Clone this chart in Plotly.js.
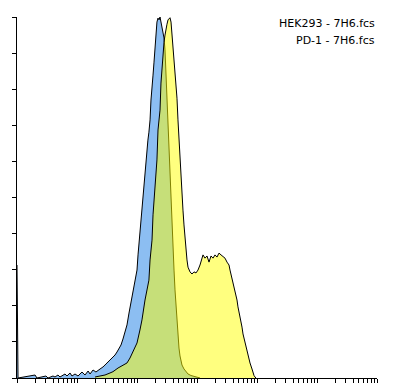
<!DOCTYPE html>
<html>
<head>
<meta charset="utf-8">
<script src="https://cdn.plot.ly/plotly-3.0.1.min.js"></script>
<style>html,body{margin:0;padding:0;background:#fff;}#chart{width:393px;height:389px;}</style>
</head>
<body>
<div id="chart"></div>
<script>
// Legend labels
const seriesNames = ["HEK293 - 7H6.fcs", "PD-1 - 7H6.fcs"];

// HEK293 histogram (fluorescence intensity, % of max)
const hekX = [1, 1.04, 2.0, 2.15, 3.04, 3.29, 3.98, 4.30, 4.82, 5.21,
  6.31, 6.81, 7.64, 8.25, 9.26, 10.4, 12.1, 13.6, 15.3, 16.5,
  18.5, 20.7, 24.2, 27.1, 30.4, 34.2, 38.3, 43.0, 46.4, 50.1,
  54.1, 58.4, 63.1, 68.1, 73.6, 79.4, 85.8, 92.6, 100, 104,
  108, 112, 117, 121, 126, 131, 136, 141, 147, 152,
  158, 165, 171, 178, 185, 192, 200, 207, 215, 224,
  233, 242, 251, 261, 271, 282, 293, 304, 316, 329,
  341, 355, 369, 383, 398, 414, 430, 447, 464, 482,
  501, 521, 541, 562, 607, 656, 708, 794, 891, 1000, 1122];
const hekY = [31.3, 0, 0.83, 0, 0.55, 0, 0.55, 0.28, 0.83, 0.28,
  1.11, 0.55, 1.39, 0.55, 1.11, 0.55, 1.66, 0.83, 1.94, 1.11,
  2.22, 1.66, 2.49, 3.05, 3.88, 4.71, 5.54, 6.37, 7.20, 8.03,
  9.14, 10.8, 12.5, 14.7, 18.0, 21.1, 23.8, 26.3, 29.9, 34.1,
  37.4, 40.7, 43.2, 47.1, 50.7, 54.3, 57.6, 60.4, 63.2, 65.9,
  68.1, 71.5, 77.0, 82.0, 83.9, 87.5, 92.2, 95.6, 98.6, 99.7,
  99.2, 100, 98.6, 97.2, 95.8, 94.2, 90.9, 84.0, 77.0, 68.7,
  61.8, 54.8, 47.9, 41.6, 35.5, 29.9, 24.4, 19.4, 15.0, 11.1,
  8.3, 6.1, 4.7, 3.6, 2.5, 1.66, 1.11, 0.69, 0.42, 0.14, 0];

// PD-1 histogram (fluorescence intensity, % of max)
const pd1X = [20.0, 24.2, 29.3, 35.5, 39.8, 48.3, 56.2, 68.1, 76.4, 85.8,
  100, 112, 121, 136, 147, 158, 165, 178, 185, 200,
  215, 224, 242, 251, 261, 271, 282, 293, 304, 316,
  329, 341, 355, 369, 383, 398, 414, 430, 447, 464,
  482, 501, 521, 541, 562, 584, 607, 631, 656, 681,
  708, 736, 764, 825, 891, 962, 1038, 1122, 1211, 1259,
  1359, 1468, 1585, 1711, 1848, 1995, 2154, 2326, 2512, 2712,
  2929, 3162, 3415, 3548, 3831, 3981, 4299, 4642, 4819, 5204,
  5623, 5843, 6310, 6813, 7079, 7645, 8254, 8577, 8913, 9261, 9624];
const pd1Y = [0.28, 0.55, 0.83, 1.39, 1.75, 2.77, 3.46, 4.16, 5.54, 7.20,
  9.70, 13.3, 16.1, 21.6, 24.4, 27.1, 32.7, 38.2, 45.2, 53.5,
  60.4, 68.7, 74.2, 81.7, 86.0, 90.0, 93.0, 95.0, 97.0, 98.0,
  99.2, 99.6, 99.8, 98.6, 95.0, 90.9, 88.1, 86.1, 81.2, 77.5,
  71.5, 65.9, 60.4, 54.8, 50.7, 46.5, 42.4, 38.2, 34.9, 32.7,
  30.7, 29.9, 29.4, 28.8, 29.4, 29.1, 29.9, 31.3, 33.5, 34.1,
  33.2, 33.8, 32.1, 33.8, 33.2, 34.1, 33.5, 34.6, 34.1, 33.5,
  33.2, 32.1, 31.3, 29.9, 27.7, 26.3, 23.8, 21.6, 19.7, 17.2,
  14.1, 12.2, 9.70, 7.76, 5.82, 4.16, 2.49, 1.39, 0.69, 0.28, 0];

const traces = [
  {x: hekX, y: hekY, type: "scatter", mode: "lines", fill: "tozeroy",
   fillcolor: "rgb(140,190,242)", line: {color: "#000", width: 1}, hoverinfo: "skip"},
  {x: pd1X, y: pd1Y, type: "scatter", mode: "lines", fill: "tozeroy",
   fillcolor: "rgba(255,255,0,0.5)", line: {color: "#000", width: 1}, hoverinfo: "skip"}
];

const layout = {
  width: 393, height: 389,
  margin: {l: 17, r: 16, t: 17, b: 11, pad: 0},
  paper_bgcolor: "#fff", plot_bgcolor: "#fff",
  showlegend: false,
  xaxis: {type: "log", range: [0, 6], dtick: "D1", ticks: "outside", ticklen: 4,
    tickcolor: "#000", tickwidth: 1, showticklabels: false, showgrid: false,
    zeroline: false, showline: true, linecolor: "#000", linewidth: 1, fixedrange: true},
  yaxis: {range: [0, 100], dtick: 10, tick0: 0, ticks: "outside", ticklen: 4,
    tickcolor: "#000", tickwidth: 1, showticklabels: false, showgrid: false,
    zeroline: false, showline: true, linecolor: "#000", linewidth: 1, fixedrange: true},
  annotations: seriesNames.map((t, i) => ({
    text: t, xref: "paper", yref: "paper", x: 1.0, y: i === 0 ? 0.981 : 0.935,
    xanchor: "right", yanchor: "middle", showarrow: false,
    font: {family: "DejaVu Sans", size: 11, color: "#000"}
  }))
};

Plotly.newPlot("chart", traces, layout, {staticPlot: true, displayModeBar: false});
</script>
</body>
</html>
